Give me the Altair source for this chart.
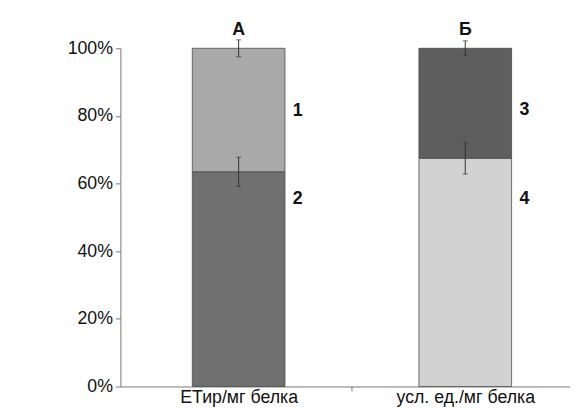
import altair as alt
import pandas as pd

categories = ["ЕТир/мг белка", "усл. ед./мг белка"]
positions = [0.5, 1.5]
group_titles = ["А", "Б"]
bottom_values = [0.635, 0.675]
bottom_errors = [0.043, 0.047]
top_errors = [0.025, 0.022]
bottom_labels = ["2", "4"]
top_labels = ["1", "3"]
bottom_colors = ["#707070", "#d2d2d2"]
top_colors = ["#a9a9a9", "#5e5e5e"]
label_y = [0.813, 0.554, 0.816, 0.554]

rows = []
for i in range(2):
    rows.append({"x": positions[i], "y0": 0.0, "y1": bottom_values[i], "color": bottom_colors[i]})
    rows.append({"x": positions[i], "y0": bottom_values[i], "y1": 1.0, "color": top_colors[i]})
bars = pd.DataFrame(rows)

err = pd.DataFrame({
    "x": positions * 2,
    "c": bottom_values + [1.0, 1.0],
    "e": bottom_errors + top_errors,
})
err["lo"] = err["c"] - err["e"]
err["hi"] = err["c"] + err["e"]

xscale = alt.Scale(domain=[0, 1.9404], nice=False, zero=False)
yscale = alt.Scale(domain=[0, 1], nice=False)

label_expr = ("datum.value == 0.5 ? '" + categories[0] + "' : datum.value == 1.5 ? '"
              + categories[1] + "' : ''")

bar_layer = alt.Chart(bars).mark_bar(width=94, stroke="#4a4a4a", strokeWidth=0.8).encode(
    x=alt.X("x:Q", scale=xscale,
            axis=alt.Axis(values=positions, labelExpr=label_expr, title=None, ticks=False,
                          grid=False, domainColor="#777777", labelFontSize=18,
                          labelColor="#111111", labelFont="Liberation Sans", labelPadding=2)),
    y=alt.Y("y0:Q", scale=yscale,
            axis=alt.Axis(values=[0, 0.2, 0.4, 0.6, 0.8, 1.0], format="%", title=None,
                          grid=False, domainColor="#777777", tickColor="#777777", tickSize=5,
                          labelFontSize=18, labelColor="#111111",
                          labelFont="Liberation Sans", labelPadding=3)),
    y2="y1:Q",
    color=alt.Color("color:N", scale=None),
)

mid_tick = alt.Chart(pd.DataFrame({"x": [1.0]})).mark_rule(color="#777777", strokeWidth=1).encode(
    x=alt.X("x:Q", scale=xscale), y=alt.value(343), y2=alt.value(348)
)

err_rule = alt.Chart(err).mark_rule(color="#333333", strokeWidth=1).encode(
    x=alt.X("x:Q", scale=xscale), y=alt.Y("lo:Q", scale=yscale), y2="hi:Q"
)
cap_lo = alt.Chart(err).mark_tick(color="#333333", thickness=1, size=5, orient="horizontal").encode(
    x=alt.X("x:Q", scale=xscale), y=alt.Y("lo:Q", scale=yscale)
)
cap_hi = alt.Chart(err).mark_tick(color="#333333", thickness=1, size=5, orient="horizontal").encode(
    x=alt.X("x:Q", scale=xscale), y=alt.Y("hi:Q", scale=yscale)
)

titles = alt.Chart(pd.DataFrame({"x": positions, "t": group_titles})).mark_text(
    fontSize=18, fontWeight="bold", font="Liberation Sans", color="#111111",
    baseline="alphabetic", dy=-13
).encode(x=alt.X("x:Q", scale=xscale), y=alt.datum(1.0), text="t:N")

seg_lab = pd.DataFrame({
    "x": [positions[0], positions[0], positions[1], positions[1]],
    "y": label_y,
    "t": [top_labels[0], bottom_labels[0], top_labels[1], bottom_labels[1]],
})
seg_text = alt.Chart(seg_lab).mark_text(
    fontSize=18, fontWeight="bold", font="Liberation Sans", color="#111111",
    align="center", baseline="middle", dx=60
).encode(x=alt.X("x:Q", scale=xscale), y=alt.Y("y:Q", scale=yscale), text="t:N")

chart = alt.layer(bar_layer, mid_tick, err_rule, cap_lo, cap_hi, titles, seg_text).properties(
    width=456, height=343,
    autosize=alt.AutoSizeParams(type="none"),
    padding={"left": 114, "top": 38, "right": 0, "bottom": 22},
).configure_view(stroke=None)

chart.save("out.html", embed_options={"renderer": "svg", "actions": False})
